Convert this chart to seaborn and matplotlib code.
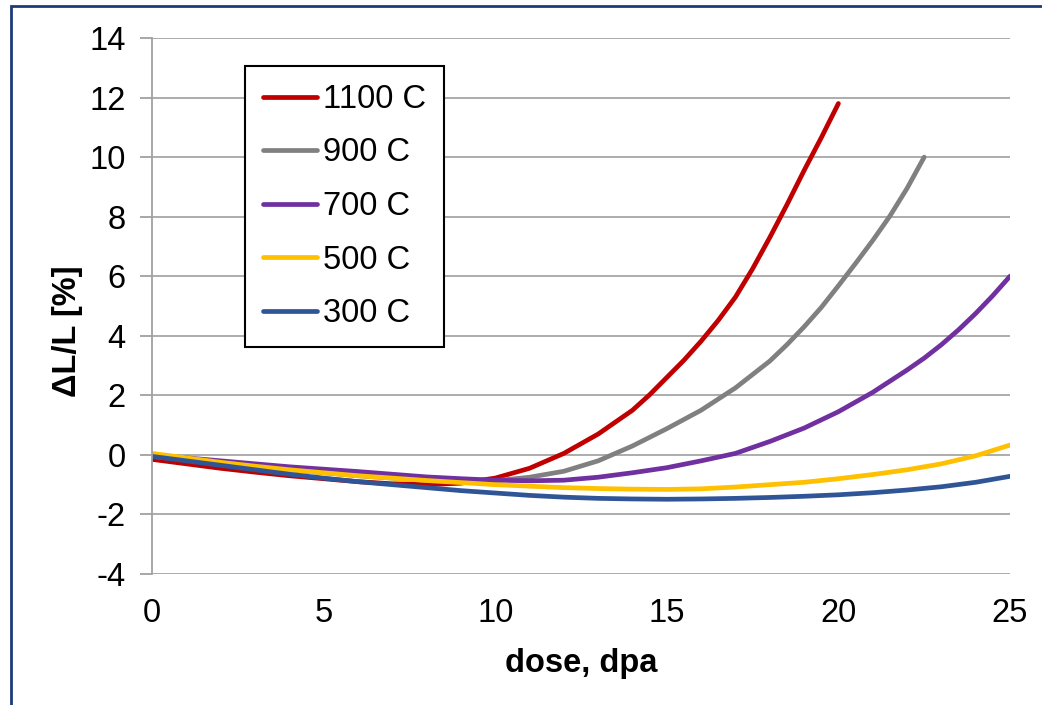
import numpy as np
import pandas as pd
import matplotlib
matplotlib.use("Agg")
import matplotlib.pyplot as plt
import seaborn as sns
from matplotlib.patches import Rectangle

# values
labels = ["1100 C", "900 C", "700 C", "500 C", "300 C"]
colors = ["#C00000", "#808080", "#7030A0", "#FFC000", "#2F5597"]

dose_1100 = list(range(0, 14)) + [14, 14.5, 15, 15.5, 16, 16.5, 17, 17.5, 18, 18.5, 19, 19.5, 20]
dl_1100 = [-0.15, -0.3, -0.45, -0.58, -0.7, -0.8, -0.9, -0.97, -1.0, -0.95, -0.78,
           -0.45, 0.05, 0.7, 1.5, 2.02, 2.6, 3.18, 3.82, 4.52, 5.3, 6.25, 7.3, 8.4,
           9.55, 10.65, 11.8]

dose_900 = list(range(0, 18)) + [18, 18.5, 19, 19.5, 20, 20.5, 21, 21.5, 22, 22.5]
dl_900 = [-0.05, -0.17, -0.3, -0.4, -0.5, -0.6, -0.7, -0.78, -0.85, -0.88, -0.87,
          -0.75, -0.55, -0.2, 0.3, 0.88, 1.5, 2.25, 3.15, 3.7, 4.3, 4.95, 5.68, 6.43,
          7.2, 8.02, 8.95, 10.0]

dose_700 = list(range(0, 22)) + [22, 22.5, 23, 23.5, 24, 24.5, 25]
dl_700 = [0.0, -0.1, -0.2, -0.3, -0.4, -0.48, -0.56, -0.65, -0.74, -0.8, -0.85,
          -0.87, -0.85, -0.75, -0.6, -0.43, -0.2, 0.05, 0.45, 0.9, 1.45, 2.1, 2.85,
          3.25, 3.7, 4.2, 4.75, 5.35, 6.0]

dose_500 = list(range(0, 26))
dl_500 = [0.05, -0.1, -0.25, -0.38, -0.5, -0.6, -0.7, -0.78, -0.86, -0.93, -1.0,
          -1.05, -1.1, -1.13, -1.15, -1.16, -1.14, -1.08, -1.0, -0.92, -0.8, -0.66,
          -0.5, -0.3, -0.03, 0.33]

dose_300 = list(range(0, 26))
dl_300 = [-0.05, -0.2, -0.35, -0.5, -0.65, -0.78, -0.9, -1.0, -1.1, -1.2, -1.28,
          -1.36, -1.42, -1.46, -1.48, -1.49, -1.48, -1.46, -1.43, -1.39, -1.34,
          -1.27, -1.18, -1.07, -0.92, -0.72]

y_ticks = [-4, -2, 0, 2, 4, 6, 8, 10, 12, 14]
x_ticks = [0, 5, 10, 15, 20, 25]

doses = [dose_1100, dose_900, dose_700, dose_500, dose_300]
dls = [dl_1100, dl_900, dl_700, dl_500, dl_300]

frames = []
for lab, d, v in zip(labels, doses, dls):
    frames.append(pd.DataFrame({"dose": d, "dL": v, "T": lab}))
df = pd.concat(frames, ignore_index=True)

sns.set_style("white")
plt.rcParams["font.family"] = ["Liberation Sans", "DejaVu Sans"]
plt.rcParams["text.color"] = "black"
plt.rcParams["axes.labelcolor"] = "black"
plt.rcParams["axes.unicode_minus"] = False

FS = 23.5

fig = plt.figure(figsize=(10.42, 7.05), dpi=100)
ax = fig.add_axes([152 / 1042, 1 - 574 / 705, 858 / 1042, 536 / 705])

sns.lineplot(data=df, x="dose", y="dL", hue="T", hue_order=labels,
             palette=colors, linewidth=3.4, sort=False, estimator=None,
             ax=ax, solid_capstyle="round", solid_joinstyle="round")

ax.set_xlim(0, 25)
ax.set_ylim(-4, 14)
ax.set_xticks(x_ticks)
ax.set_yticks(y_ticks)
ax.set_xticklabels([str(t) for t in x_ticks])
ax.set_yticklabels([str(t) for t in y_ticks])
ax.yaxis.grid(True, color="#A6A6A6", linewidth=1.3)
ax.xaxis.grid(False)
ax.set_axisbelow(True)
for s in ["top", "right", "bottom"]:
    ax.spines[s].set_visible(False)
ax.spines["left"].set_color("#A0A0A0")
ax.spines["left"].set_linewidth(1.3)
ax.tick_params(axis="y", length=9, width=1.3, color="#A0A0A0", labelcolor="black",
               labelsize=FS, pad=10, left=True)
ax.tick_params(axis="x", length=0, labelsize=FS, labelcolor="black", pad=17)

ax.set_xlabel("dose, dpa", fontsize=FS, fontweight="bold")
ax.set_ylabel("\u0394L/L [%]", fontsize=FS, fontweight="bold")
ax.xaxis.set_label_coords(0.5, (574 - 648) / 536)
ax.yaxis.set_label_coords((83 - 152) / 858, (574 - 331) / 536)

leg = ax.legend(loc="upper left", bbox_to_anchor=((245 - 152) / 858, (574 - 66) / 536),
                borderaxespad=0, fontsize=FS, frameon=True, fancybox=False,
                framealpha=1, edgecolor="black", handlelength=1.65,
                handletextpad=0.2, labelspacing=0.69, borderpad=0.55)
leg.get_frame().set_linewidth(1.5)
for line in leg.get_lines():
    line.set_linewidth(3.4)
    line.set_solid_capstyle("round")

# outer frame of the slide
fig.patches.append(Rectangle((11 / 1042, -0.05), 1.1, 1 - 6 / 705 + 0.05,
                             transform=fig.transFigure, fill=False,
                             edgecolor="#1F3A7A", linewidth=2))

fig.savefig("out.png", dpi=100)
